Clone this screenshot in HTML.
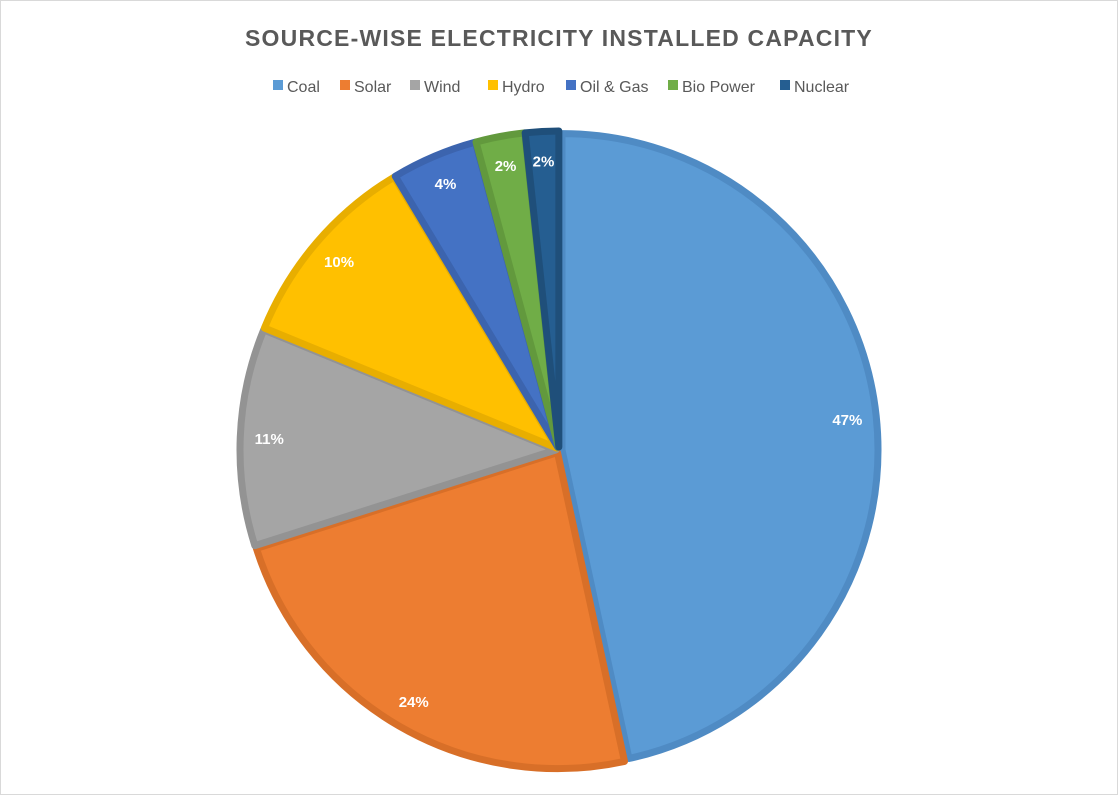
<!DOCTYPE html>
<html><head><meta charset="utf-8"><style>
body{margin:0;background:#fff;}
#wrap{position:relative;width:1116px;height:793px;border:1px solid #d9d9d9;background:#fff;font-family:"Liberation Sans",sans-serif;}
</style></head><body>
<div id="wrap">
<svg id="chart" width="1116" height="793">
<text x="558" y="45" text-anchor="middle" font-size="23" font-weight="bold" fill="#595959" letter-spacing="1.2">SOURCE-WISE ELECTRICITY INSTALLED CAPACITY</text>
<g id="legend"></g>
<g id="slices"></g>
<g id="labels"></g>
</svg>
</div>
<script>
const categories = ["Coal","Solar","Wind","Hydro","Oil & Gas","Bio Power","Nuclear"];
const values = [46.6,23.5,11.1,10.2,4.4,2.5,1.7];
const labels = ["47%","24%","11%","10%","4%","2%","2%"];
const fills = ["#5b9bd5","#ed7d31","#a5a5a5","#ffc000","#4472c4","#70ad47","#255e91"];
const strokes = ["#4f8bc4","#d86f28","#939393","#e8ae00","#3c64ae","#62993d","#1f4f7a"];
const ns="http://www.w3.org/2000/svg";
const cx=558, cy=449, R=320;
const total=values.reduce((a,b)=>a+b,0);
const sl=document.getElementById('slices'), lb=document.getElementById('labels'), lg=document.getElementById('legend');
function pt(a,r){return [cx+r*Math.sin(a), cy-r*Math.cos(a)];}
let acc=0;
values.forEach((v,i)=>{
  const a0=acc/total*2*Math.PI; acc+=v; const a1=acc/total*2*Math.PI;
  const mid=(a0+a1)/2, off=3;
  const ox=off*Math.sin(mid), oy=-off*Math.cos(mid);
  const r=R-4;
  const p0=pt(a0,r), p1=pt(a1,r);
  const large=(a1-a0)>Math.PI?1:0;
  const path=document.createElementNS(ns,'path');
  path.setAttribute('d',`M${cx+ox},${cy+oy} L${p0[0]+ox},${p0[1]+oy} A${r},${r} 0 ${large} 1 ${p1[0]+ox},${p1[1]+oy} Z`);
  path.setAttribute('fill',fills[i]);
  path.setAttribute('stroke',strokes[i]);
  path.setAttribute('stroke-width','7');
  path.setAttribute('stroke-linejoin','round');
  
  
  sl.appendChild(path);
  const lp=pt(mid,R-30);
  const t=document.createElementNS(ns,'text');
  t.setAttribute('x',lp[0]);t.setAttribute('y',lp[1]+6);
  t.setAttribute('text-anchor','middle');t.setAttribute('font-size','15');t.setAttribute('font-weight','bold');t.setAttribute('fill','#fff');
  t.textContent=labels[i];
  
  
  lb.appendChild(t);
});
// legend
const lx=[272,339,409,487,565,667,779];
categories.forEach((c,i)=>{
  const g=document.createElementNS(ns,'g');
  
  
  const r=document.createElementNS(ns,'rect');
  r.setAttribute('x',lx[i]);r.setAttribute('y',79);r.setAttribute('width',10);r.setAttribute('height',10);r.setAttribute('fill',fills[i]);
  const t=document.createElementNS(ns,'text');
  t.setAttribute('x',lx[i]+14);t.setAttribute('y',91);t.setAttribute('font-size','16');t.setAttribute('fill','#595959');
  t.textContent=c;
  g.appendChild(r);g.appendChild(t);lg.appendChild(g);
});
</script>
</body></html>
